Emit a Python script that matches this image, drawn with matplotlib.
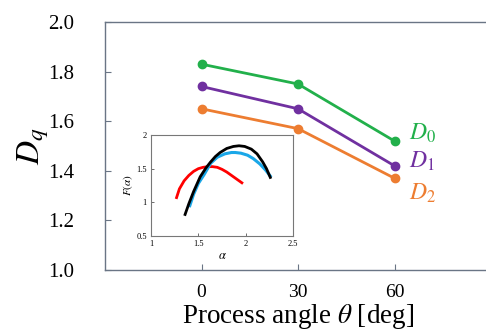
import matplotlib.pyplot as plt

plt.rcParams['font.family'] = 'Liberation Serif'
plt.rcParams['mathtext.fontset'] = 'stix'

# main data
angles = [0, 30, 60]
d0 = [1.83, 1.75, 1.52]
d1 = [1.74, 1.65, 1.42]
d2 = [1.65, 1.57, 1.37]
series_labels = [r'$D_0$', r'$D_1$', r'$D_2$']
series_colors = ['#22b04b', '#7030a0', '#ed7d31']
label_offsets = [0.03, 0.02, -0.06]

# inset spectra (alpha, F(alpha))
red_a = [1.27, 1.30, 1.35, 1.40, 1.45, 1.50, 1.55, 1.60, 1.65, 1.70, 1.75, 1.80, 1.85, 1.90, 1.96]
red_f = [1.07, 1.20, 1.32, 1.40, 1.46, 1.50, 1.52, 1.53, 1.53, 1.52, 1.49, 1.45, 1.40, 1.35, 1.29]
blue_a = [1.41, 1.45, 1.50, 1.56, 1.63, 1.70, 1.78, 1.85, 1.89, 1.95, 2.02, 2.08, 2.15, 2.21, 2.26]
blue_f = [0.95, 1.12, 1.28, 1.41, 1.58, 1.67, 1.72, 1.74, 1.74, 1.73, 1.70, 1.65, 1.57, 1.48, 1.39]
black_a = [1.36, 1.40, 1.45, 1.52, 1.58, 1.63, 1.68, 1.73, 1.80, 1.87, 1.93, 1.99, 2.06, 2.12, 2.18, 2.22, 2.26]
black_f = [0.82, 0.98, 1.16, 1.38, 1.51, 1.60, 1.68, 1.74, 1.80, 1.83, 1.84, 1.83, 1.79, 1.72, 1.60, 1.50, 1.37]

fig = plt.figure(figsize=(4.86, 3.33), dpi=100)
ax = fig.add_axes([105 / 486, 63 / 333, 386 / 486, 248 / 333])

for vals, lab, col, off in zip([d0, d1, d2], series_labels, series_colors, label_offsets):
    ax.plot(angles, vals, color=col, lw=2, marker='o', ms=6)
    ax.text(angles[-1] + 4.5, vals[-1] + off, lab,
            color=col, fontsize=17, va='center', ha='left')

ax.set_xlim(-30, 90)
ax.set_ylim(1.0, 2.0)
ax.set_xticks(angles)
ax.set_yticks([1.0, 1.2, 1.4, 1.6, 1.8, 2.0])
ax.set_yticklabels(['1.0', '1.2', '1.4', '1.6', '1.8', '2.0'])
ax.tick_params(direction='in', length=4, width=0.8, color='#6a7585', labelsize=15)
ax.tick_params(axis='x', pad=10, labelsize=14)
ax.tick_params(axis='y', pad=22)
for s in ax.spines.values():
    s.set_color('#6a7585')
    s.set_linewidth(1.0)
ax.set_xlabel(r'Process angle $\theta$ [deg]', fontsize=19.5, labelpad=0.5)
ax.set_ylabel(r'$D_q$', fontsize=24, labelpad=-2)

# inset
ins = fig.add_axes([151 / 486, (333 - 236) / 333, 142 / 486, 101 / 333])
ins.plot(red_a, red_f, color='#ff0000', lw=2)
ins.plot(blue_a, blue_f, color='#1aa7e8', lw=2.2)
ins.plot(black_a, black_f, color='black', lw=2)
ins.set_xlim(1, 2.5)
ins.set_ylim(0.5, 2)
ins.set_xticks([1, 1.5, 2, 2.5])
ins.set_xticklabels(['1', '1.5', '2', '2.5'])
ins.set_yticks([0.5, 1, 1.5, 2])
ins.set_yticklabels(['0.5', '1', '1.5', '2'])
ins.tick_params(direction='in', length=2, width=0.6, labelsize=6, pad=3, color='#555555')
for s in ins.spines.values():
    s.set_color('#777777')
    s.set_linewidth(0.8)
ins.set_xlabel(r'$\alpha$', fontsize=9, labelpad=1)
ins.set_ylabel(r'$F(\alpha)$', fontsize=8, labelpad=1)

fig.savefig('out.png', dpi=100)
